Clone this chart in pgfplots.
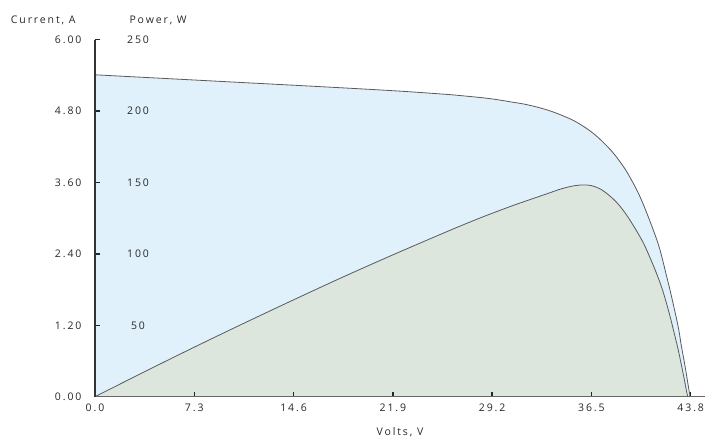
\documentclass[border=0pt]{standalone}
\usepackage{pgfplots}
\pgfplotsset{compat=1.18}
\usepackage{fontspec}
\setmainfont{Open Sans}[LetterSpace=18]
\definecolor{cblue}{RGB}{224,241,251}
\definecolor{cgreen}{RGB}{220,230,221}
\definecolor{cline}{RGB}{90,90,90}
\definecolor{ctext}{RGB}{40,40,40}
\pgfplotstableread{
V I
0 5.41
4.0 5.362
8.0 5.314
12.0 5.266
16.0 5.218
20.0 5.168
23.0 5.127
25.9 5.08
27.0 5.058
28.5 5.024
29.5 4.995
30.7 4.95
31.5 4.92
32.5 4.868
33.4 4.808
34.2 4.74
35.2 4.64
36.2 4.50
37.0 4.355
37.9 4.15
38.5 3.98
39.1 3.78
39.8 3.49
40.3 3.24
41.0 2.83
41.5 2.50
42.0 2.05
42.3 1.77
42.6 1.47
42.9 1.15
43.1 0.87
43.4 0.49
43.6 0.21
43.75 0
}\current
\pgfplotstableread{
V P
0 0
3.5 16.8
7.0 33.3
10.5 49.4
14.3 66.5
18.0 82.8
21.7 98.5
25.9 115.7
28.4 125.5
30.8 134.1
33.2 142
34.2 145.3
35.0 147.3
35.8 148.3
36.5 147.8
37.2 145.2
37.9 140.2
38.5 134.5
39.1 127.0
39.7 118
40.3 108
40.8 97.5
41.3 86
41.7 75.5
42.0 66
42.3 55.5
42.65 42
42.9 32
43.14 21
43.35 11
43.5 3.5
43.58 0
}\power
\begin{document}
\begin{tikzpicture}[font=\fontsize{10.5}{12}\selectfont, text=ctext]
\path[use as bounding box] (-95pt,-41.3pt) rectangle (613pt,396.7pt);
\begin{axis}[scale only axis, width=610pt, height=357pt,
  xmin=0, xmax=44.85, ymin=0, ymax=6, hide axis]
\addplot[fill=cblue, draw=none, smooth, tension=0.5] table[x=V, y=I] {\current} \closedcycle;
\addplot[draw=cline, line width=0.8pt, smooth, tension=0.5] table[x=V, y=I] {\current};
\end{axis}
\begin{axis}[scale only axis, width=610pt, height=357pt,
  xmin=0, xmax=44.85, ymin=0, ymax=250,
  axis lines=left, axis line style={-}, axis on top,
  x axis line style={line width=1.6pt, color=black!60},
  y axis line style={line width=2.4pt, color=black!80},
  xtick={0,7.3,14.6,21.9,29.2,36.5,43.8},
  xticklabels={0.0,7.3,14.6,21.9,29.2,36.5,43.8},
  ytick={0,50,100,150,200,250},
  yticklabels={0.00,1.20,2.40,3.60,4.80,6.00},
  tick align=inside, major tick length=5pt,
  tick style={line width=1.4pt, color=black!85},
  yticklabel style={xshift=-10pt},
  xticklabel style={yshift=-4pt},
  extra y ticks={50,100,150,200,250},
  extra y tick labels={50,100,150,200,250},
  extra y tick style={tick style={draw=none}, yticklabel style={anchor=center, xshift=53pt}},
  xlabel={Volts, V},
  xlabel style={at={(axis description cs:0.5,0)}, anchor=center, yshift=-35.3pt},
]
\addplot[fill=cgreen, draw=none, smooth, tension=0.5] table[x=V, y=P] {\power} \closedcycle;
\addplot[draw=cline, line width=0.8pt, smooth, tension=0.5] table[x=V, y=P] {\power};
\end{axis}
\node[anchor=east] at (-16pt,376.7pt) {Current, A};
\node[anchor=west] at (31pt,376.7pt) {Power, W};
\end{tikzpicture}
\end{document}
